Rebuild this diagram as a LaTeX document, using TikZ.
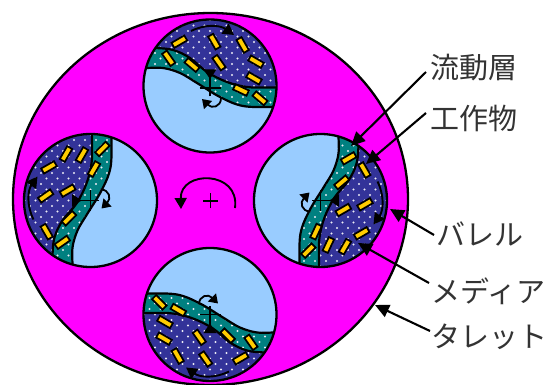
\documentclass[tikz,border=0pt]{standalone}
\usepackage{fontspec}
\newfontfamily\cjk{Noto Sans CJK JP}
\usetikzlibrary{arrows.meta}
\definecolor{turret}{HTML}{FF00FF}
\definecolor{water}{HTML}{99CCFF}
\definecolor{bandc}{HTML}{008080}
\definecolor{mediac}{HTML}{333399}
\definecolor{chipc}{HTML}{FFCC00}
\tikzset{
  outl/.style={draw=black,line width=2.3pt},
  chipbox/.style={draw=black,line width=1.7pt,fill=chipc},
  thinarrow/.style={line width=1.9pt,-{Triangle[length=11pt,width=12pt]}},
  smallarc/.style={line width=1.8pt,-{Triangle[length=8.5pt,width=11pt]}},
  callout/.style={line width=2.1pt,-{Triangle[length=14pt,width=13pt]}},
  lab/.style={font=\cjk\fontsize{29pt}{29pt}\selectfont,anchor=west,inner sep=0pt,text=black!80},
}
\newcommand{\uppercurve}{plot[smooth,tension=.6] coordinates {(-72,-38) (-55,-38) (-37,-36) (-20,-28) (-3,-14) (17,-4) (37,1) (55,1.5) (72,1.5)}}
\newcommand{\lowerpath}{plot[smooth,tension=.6] coordinates {(-72,-18) (-64,-18) (-47,-18) (-30,-13) (-13,-3) (10,11) (33,20) (63,21) (72,21)}}
\newcommand{\barrel}[3]{%
  \begin{scope}[shift={(#1,#2)},rotate=#3]
    \fill[water] (0,0) circle (66.5);
    \begin{scope}
      \clip (0,0) circle (66.5);
      \fill[mediac] \uppercurve -- (72,-72) -- (-72,-72) -- cycle;
      \fill[bandc] \uppercurve -- plot[smooth,tension=.6] coordinates {(72,21) (63,21) (33,20) (10,11) (-13,-3) (-30,-13) (-47,-18) (-64,-18) (-72,-18)} -- cycle;
      \begin{scope}
        \clip \lowerpath -- (72,-72) -- (-72,-72) -- cycle;
        \fill[white!90!mediac] foreach \i in {-6,...,6} { foreach \j in {-6,...,6} {
           ({\i*11},{\j*11}) circle (1.1) ({\i*11+5.5},{\j*11+5.5}) circle (1.1) } };
      \end{scope}
      \draw[line width=2.2pt] \uppercurve;
      \draw[line width=2.2pt] \lowerpath;
    \end{scope}
    \draw[outl] (0,0) circle (66.5);
  \end{scope}}
\newcommand{\barrelarrows}[3]{%
  \begin{scope}[shift={(#1,#2)},rotate=#3]
    \draw[line width=1.8pt] (-10.5,0) -- (10.5,0);
    \draw[line width=1.8pt] (0,8.5) -- (0,-12);
    \fill (-6.5,-18.5) -- (6.5,-18.5) -- (0,-9) -- cycle;
    \draw[smallarc] (11,10) .. controls (11,19) and (2,21) .. (-8,11);
    \draw[thinarrow] (-19,-57) .. controls (-5,-64) and (10,-63) .. (24,-53);
  \end{scope}}
\newcommand{\chips}[3]{%
  \foreach \x/\y/\a in {#3} {
    \draw[chipbox,shift={({#1+\x/3},{#2+\y/3})},rotate=\a] (-7.4,-2.9) rectangle (7.4,2.9);
  }}
\begin{document}
\begin{tikzpicture}[x=1pt,y=-1pt]
\useasboundingbox (0,0) rectangle (549,385);
\draw[outl,fill=turret] (210.5,199) ellipse [x radius=197.5,y radius=186];
\barrel{210}{86}{0}
\barrel{320.5}{200.5}{-90}
\barrel{210}{314.5}{180}
\barrel{90.5}{200.5}{90}
\chips{130}{0}{148/125/30,253/125/-60,338/135/-60,378/185/-30,372/235/-30,116/175/-55,186/195/-40,267/188/-55,333/270/-25,390/295/-40}
\chips{250}{125}{296/100/30,343/135/-60,275/172/40,345/238/30,280/255/30,335/325/30,285/365/60,235/360/65,198/320/65,175/377/45}
\chips{15}{125}{153/87/60,201/90/60,262/72/45,102/127/30,237/132/60,158/197/30,92/213/35,162/280/45,95/320/-60,142/352/35}
\chips{130}{240}{88/187/-45,145/210/-30,105/246/-30,102/296/-30,208/292/-55,293/287/-45,363/307/-55,143/348/-60,227/357/-55,332/355/30}
\barrelarrows{210}{88}{0}
\barrelarrows{320.5}{200.5}{-90}
\barrelarrows{210}{314.5}{180}
\barrelarrows{90.5}{200.5}{90}
\draw[line width=1.9pt] (203,200.7) -- (218,200.7) (210.5,193) -- (210.5,208);
\draw[thinarrow] (235,208) .. controls (240,170) and (180,170) .. (181,209);
\node[lab] (ryu) at (430.5,68) {流動層};
\node[lab] (kou) at (430.5,118) {工作物};
\node[lab] (bar) at (436.5,234) {バレル};
\node[lab] (med) at (431.5,291) {メディア};
\node[lab] (tar) at (431.5,337) {タレット};
\coordinate (tipryu) at (351,146);
\coordinate (tipkou) at (366,164);
\coordinate (tipbar) at (390,209);
\coordinate (tipmed) at (358,243);
\coordinate (tiptar) at (375,305);
\draw[callout] ([shift={(-4.5,4)}]ryu.west) -- (tipryu);
\draw[callout] ([shift={(-4.5,-5)}]kou.west) -- (tipkou);
\draw[callout] ([shift={(-2.5,1)}]bar.west) -- (tipbar);
\draw[callout] ([shift={(-2.5,-8)}]med.west) -- (tipmed);
\draw[callout] ([shift={(-1.5,-6)}]tar.west) -- (tiptar);
\end{tikzpicture}
\end{document}
